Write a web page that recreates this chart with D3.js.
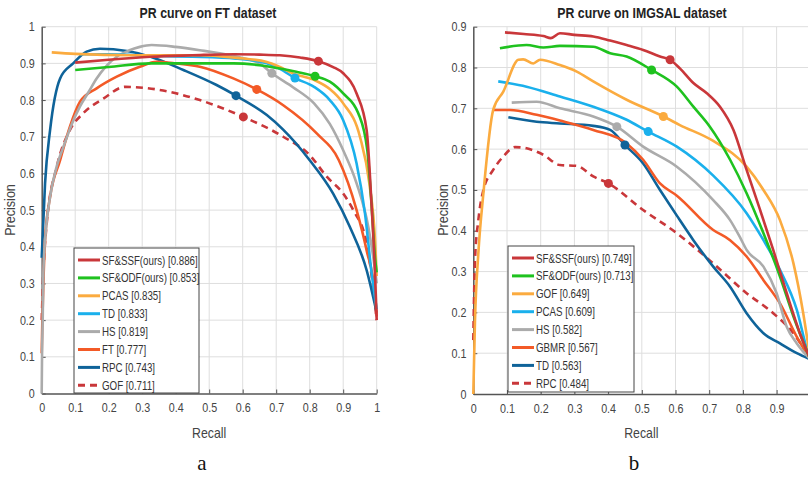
<!DOCTYPE html>
<html>
<head>
<meta charset="utf-8">
<script src="https://cdn.jsdelivr.net/npm/d3@7"></script>
<style>
  body { margin: 0; background: #fff; }
  svg { display: block; }
  text { font-family: "Liberation Sans", Arial, sans-serif; }
</style>
</head>
<body>
<svg id="chart" width="808" height="477"></svg>
<script>

//******************************************************************************
//**  Data: FT dataset (recall, precision)
//******************************************************************************
var ftNames = ["SF&SSF(ours) [0.886]", "SF&ODF(ours) [0.853]", "PCAS [0.835]", "TD [0.833]",
               "HS [0.819]", "FT [0.777]", "RPC [0.743]", "GOF [0.711]"];

var ftSSF = [[0.10,0.902],[0.2,0.91],[0.325,0.918],[0.45,0.922],[0.572,0.925],[0.65,0.924],[0.711,0.922],
             [0.771,0.916],[0.826,0.906],[0.87,0.89],[0.9,0.873],[0.94,0.818],[0.97,0.718],[0.985,0.509],
             [0.995,0.327],[1.0,0.2]];
var ftODF = [[0.10,0.882],[0.2,0.89],[0.325,0.9],[0.45,0.9],[0.572,0.9],[0.65,0.895],[0.711,0.886],
             [0.76,0.877],[0.816,0.865],[0.86,0.85],[0.9,0.818],[0.945,0.764],[0.972,0.663],[0.985,0.509],
             [0.995,0.37],[1.0,0.33]];
var ftPCAS = [[0.03,0.93],[0.1,0.926],[0.273,0.922],[0.47,0.922],[0.58,0.915],[0.672,0.904],[0.711,0.89],
              [0.751,0.872],[0.813,0.855],[0.86,0.83],[0.9,0.791],[0.95,0.70],[0.978,0.573],[0.995,0.418],
              [1.0,0.32]];
var ftTD = [[0.114,0.925],[0.2,0.925],[0.35,0.92],[0.45,0.918],[0.58,0.913],[0.672,0.9],[0.711,0.885],
            [0.756,0.86],[0.813,0.836],[0.86,0.8],[0.9,0.745],[0.94,0.627],[0.965,0.491],[0.985,0.327],
            [1.0,0.23]];
var ftHS = [[0.0,0.0],[0.001,0.1],[0.003,0.2],[0.005,0.33],[0.012,0.44],[0.025,0.536],[0.045,0.62],
            [0.065,0.673],[0.09,0.735],[0.114,0.782],[0.14,0.822],[0.164,0.859],[0.19,0.89],[0.224,0.918],
            [0.26,0.935],[0.293,0.945],[0.328,0.95],[0.4,0.945],[0.472,0.936],[0.572,0.92],[0.65,0.9],
            [0.687,0.873],[0.75,0.835],[0.813,0.791],[0.86,0.735],[0.9,0.663],[0.94,0.573],[0.975,0.454],
            [0.99,0.37],[1.0,0.3]];
var ftFT = [[0.0,0.11],[0.002,0.2],[0.005,0.3],[0.01,0.418],[0.025,0.536],[0.055,0.636],[0.084,0.727],
            [0.114,0.795],[0.164,0.832],[0.224,0.864],[0.293,0.891],[0.343,0.904],[0.4,0.9],[0.472,0.891],
            [0.572,0.859],[0.642,0.829],[0.721,0.786],[0.821,0.709],[0.887,0.636],[0.94,0.5],[0.97,0.39],
            [0.995,0.27],[1.0,0.21]];
var ftRPC = [[0.0,0.37],[0.01,0.573],[0.025,0.718],[0.055,0.859],[0.094,0.9],[0.134,0.932],[0.174,0.94],
             [0.254,0.934],[0.325,0.918],[0.423,0.882],[0.522,0.841],[0.58,0.812],[0.672,0.759],[0.72,0.72],
             [0.8,0.636],[0.87,0.545],[0.92,0.454],[0.97,0.336],[1.0,0.22]];
var ftGOF = [[0.0,0.2],[0.005,0.33],[0.015,0.464],[0.045,0.618],[0.084,0.718],[0.124,0.764],[0.184,0.804],
             [0.249,0.836],[0.343,0.829],[0.472,0.80],[0.602,0.754],[0.721,0.70],[0.8,0.65],[0.851,0.591],
             [0.9,0.545],[0.93,0.5],[0.97,0.41],[0.985,0.32],[1.0,0.2]];
var ftMarkers = [[0.826,0.906],[0.816,0.865],null,[0.756,0.86],[0.687,0.873],[0.642,0.829],[0.58,0.812],[0.602,0.754]];


//******************************************************************************
//**  Data: IMGSAL dataset (recall, precision)
//******************************************************************************
var imNames = ["SF&SSF(ours) [0.749]", "SF&ODF(ours) [0.713]", "GOF [0.649]", "PCAS [0.609]",
               "HS [0.582]", "GBMR [0.567]", "TD [0.563]", "RPC [0.484]"];

var imSSF = [[0.094,0.886],[0.15,0.882],[0.208,0.877],[0.23,0.872],[0.257,0.884],[0.3,0.88],[0.356,0.876],
             [0.406,0.866],[0.455,0.855],[0.504,0.843],[0.554,0.827],[0.584,0.819],[0.613,0.798],[0.653,0.762],
             [0.693,0.737],[0.732,0.704],[0.772,0.647],[0.811,0.549],[0.851,0.451],[0.89,0.353],[0.93,0.247],
             [0.969,0.149],[1.0,0.085]];
var imODF = [[0.079,0.847],[0.158,0.855],[0.208,0.849],[0.257,0.853],[0.356,0.851],[0.406,0.835],[0.455,0.827],
             [0.529,0.794],[0.604,0.753],[0.653,0.704],[0.702,0.655],[0.762,0.574],[0.811,0.492],[0.861,0.394],
             [0.91,0.288],[0.95,0.19],[1.0,0.085]];
var imGOF = [[0.0,0.0],[0.005,0.18],[0.015,0.345],[0.03,0.492],[0.059,0.696],[0.089,0.741],[0.134,0.819],
             [0.148,0.82],[0.178,0.81],[0.198,0.819],[0.257,0.806],[0.307,0.79],[0.356,0.766],[0.455,0.721],
             [0.564,0.68],[0.613,0.659],[0.712,0.62],[0.811,0.557],[0.861,0.5],[0.91,0.426],[0.95,0.32],
             [0.979,0.198],[1.0,0.085]];
var imPCAS = [[0.074,0.766],[0.158,0.753],[0.257,0.729],[0.356,0.704],[0.455,0.672],[0.519,0.643],[0.604,0.606],
              [0.712,0.535],[0.811,0.443],[0.861,0.377],[0.91,0.304],[0.96,0.206],[0.99,0.11],[1.0,0.085]];
var imHS = [[0.114,0.714],[0.188,0.716],[0.257,0.70],[0.356,0.68],[0.426,0.655],[0.504,0.606],[0.604,0.557],
            [0.712,0.475],[0.762,0.426],[0.79,0.386],[0.811,0.353],[0.861,0.312],[0.9,0.247],[0.93,0.165],
            [0.96,0.124],[1.0,0.085]];
var imGBMR = [[0.059,0.696],[0.109,0.696],[0.188,0.684],[0.257,0.67],[0.356,0.647],[0.455,0.614],[0.504,0.574],
              [0.554,0.516],[0.604,0.486],[0.712,0.402],[0.762,0.377],[0.811,0.337],[0.861,0.279],[0.91,0.222],
              [0.96,0.14],[1.0,0.085]];
var imTD = [[0.104,0.678],[0.188,0.667],[0.257,0.663],[0.356,0.657],[0.406,0.647],[0.45,0.61],[0.504,0.565],
            [0.554,0.5],[0.604,0.437],[0.653,0.377],[0.712,0.312],[0.762,0.263],[0.811,0.198],[0.861,0.149],
            [0.91,0.124],[0.96,0.1],[1.0,0.085]];
var imRPC = [[0.0,0.132],[0.005,0.328],[0.015,0.426],[0.03,0.5],[0.059,0.549],[0.089,0.582],[0.124,0.605],
             [0.158,0.602],[0.208,0.586],[0.257,0.561],[0.307,0.559],[0.356,0.533],[0.401,0.516],[0.504,0.451],
             [0.604,0.394],[0.712,0.32],[0.811,0.247],[0.89,0.198],[0.95,0.149],[1.0,0.085]];
var imMarkers = [[0.584,0.819],[0.529,0.794],[0.564,0.68],[0.519,0.643],[0.426,0.655],null,[0.45,0.61],[0.401,0.516]];

var ticks = [0, 0.1, 0.2, 0.3, 0.4, 0.5, 0.6, 0.7, 0.8, 0.9, 1];


//******************************************************************************
//**  Styles
//******************************************************************************
var ftColors = ["#c9373a", "#1fc21f", "#fbab3f", "#1ab0ec", "#ababab", "#f35a27", "#0f6399", "#c9373a"];
var imColors = ["#c9373a", "#1fc21f", "#fbab3f", "#1ab0ec", "#ababab", "#f35a27", "#0f6399", "#c9373a"];
var dashed = [false, false, false, false, false, false, false, true];

var svg = d3.select("#chart");


//******************************************************************************
//**  narrowText
//******************************************************************************
/** Adds a horizontally condensed text (the figure uses a narrow font) */
var narrowText = function(parent, x, y, sx, str){
    return parent.append("text")
        .attr("transform", "translate(" + x + "," + y + ") scale(" + sx + ",1)")
        .text(str);
};


//******************************************************************************
//**  drawPanel
//******************************************************************************
var drawPanel = function(cfg){

    var x = d3.scaleLinear().domain([0, 1]).range([cfg.left, cfg.right]);
    var y = d3.scaleLinear().domain([0, cfg.yMax]).range([cfg.bottom, cfg.top]);
    var yTicks = ticks.filter(function(t){ return t <= cfg.yMax + 1e-9; });
    var fmt = function(d){ return d3.format("~g")(+d.toFixed(1)); };

    var g = svg.append("g");

  //Grid
    g.append("g").selectAll("line").data(ticks.slice(1)).enter().append("line")
        .attr("x1", function(d){ return x(d); }).attr("x2", function(d){ return x(d); })
        .attr("y1", cfg.bottom).attr("y2", cfg.top)
        .attr("stroke", "#dedede").attr("stroke-width", 1);
    g.append("g").selectAll("line").data(yTicks.slice(1)).enter().append("line")
        .attr("x1", cfg.left).attr("x2", cfg.right)
        .attr("y1", function(d){ return y(d); }).attr("y2", function(d){ return y(d); })
        .attr("stroke", "#dedede").attr("stroke-width", 1);

  //Axes
    var xAxis = g.append("g")
        .attr("transform", "translate(0," + cfg.bottom + ")")
        .call(d3.axisBottom(x).tickValues(ticks).tickFormat(fmt).tickSizeInner(-4).tickSizeOuter(0).tickPadding(10));
    var yAxis = g.append("g")
        .attr("transform", "translate(" + cfg.left + ",0)")
        .call(d3.axisLeft(y).tickValues(yTicks).tickFormat(fmt).tickSizeInner(-4).tickSizeOuter(0).tickPadding(8));
    [xAxis, yAxis].forEach(function(a){
        a.select(".domain").attr("stroke", "#555").attr("stroke-width", 1.5);
        a.selectAll(".tick line").attr("stroke", "#555");
        a.selectAll(".tick text").attr("fill", "#444").style("font-size", "12.5px")
            .attr("transform", "scale(0.86,1)");
    });

  //Curves
    var line = d3.line()
        .x(function(d){ return x(d[0]); })
        .y(function(d){ return y(d[1]); })
        .curve(d3.curveMonotoneX);

    for (var i = cfg.series.length - 1; i >= 0; i--){
        g.append("path")
            .attr("d", line(cfg.series[i]))
            .attr("fill", "none")
            .attr("stroke", cfg.colors[i])
            .attr("stroke-width", 2.6)
            .attr("stroke-dasharray", dashed[i] ? "7,5" : null)
            .attr("stroke-linejoin", "round");
    }

  //Markers
    cfg.markers.forEach(function(m, i){
        if (!m) return;
        g.append("circle")
            .attr("cx", x(m[0])).attr("cy", y(m[1])).attr("r", 4.5)
            .attr("fill", cfg.colors[i]);
    });

  //Titles
    narrowText(g, cfg.titleX, 18, 0.88, cfg.title)
        .attr("text-anchor", "middle").style("font-size", "14px").style("font-weight", "bold")
        .attr("fill", "#222");
    narrowText(g, (cfg.left + cfg.right) / 2 + cfg.recallShift, 438, 0.88, "Recall")
        .attr("text-anchor", "middle").style("font-size", "14px").attr("fill", "#444");
    g.append("text")
        .attr("transform", "translate(" + cfg.precX + ",210) rotate(-90) scale(0.9,1)")
        .attr("text-anchor", "middle").style("font-size", "14px").attr("fill", "#444").text("Precision");

  //Legend
    var lg = g.append("g");
    lg.append("rect")
        .attr("x", cfg.legend[0]).attr("y", cfg.legend[1])
        .attr("width", cfg.legend[2]).attr("height", cfg.legend[3])
        .attr("fill", "#fff").attr("stroke", "#444").attr("stroke-width", 1);
    cfg.names.forEach(function(name, i){
        var ly = cfg.legend[1] + 12 + i * 17.9;
        lg.append("line")
            .attr("x1", cfg.legend[0] + 4).attr("x2", cfg.legend[0] + 26)
            .attr("y1", ly).attr("y2", ly)
            .attr("stroke", cfg.colors[i]).attr("stroke-width", 3)
            .attr("stroke-dasharray", dashed[i] ? "7,5" : null);
        narrowText(lg, cfg.legend[0] + 28, ly + 4.5, 0.78, name)
            .style("font-size", "12.5px").attr("fill", "#333");
    });

  //Panel label
    g.append("text").attr("x", cfg.labelX).attr("y", 470)
        .attr("text-anchor", "middle")
        .style("font-family", "'Liberation Serif', 'DejaVu Serif', serif").style("font-size", "21px")
        .attr("fill", "#111").text(cfg.label);
};


drawPanel({
    left: 41.7, right: 376.7, top: 26.7, bottom: 393.5, yMax: 1,
    series: [ftSSF, ftODF, ftPCAS, ftTD, ftHS, ftFT, ftRPC, ftGOF],
    markers: ftMarkers, names: ftNames, colors: ftColors,
    title: "PR curve on FT dataset", titleX: 208, recallShift: 0, precX: 15,
    legend: [74, 248, 125, 145], label: "a", labelX: 202
});

drawPanel({
    left: 473.3, right: 810.3, top: 26.7, bottom: 394, yMax: 0.9,
    series: [imSSF, imODF, imGOF, imPCAS, imHS, imGBMR, imTD, imRPC],
    markers: imMarkers, names: imNames, colors: imColors,
    title: "PR curve on IMGSAL dataset", titleX: 642, recallShift: -0.5, precX: 448,
    legend: [508, 246, 126, 146], label: "b", labelX: 634
});

</script>
</body>
</html>
